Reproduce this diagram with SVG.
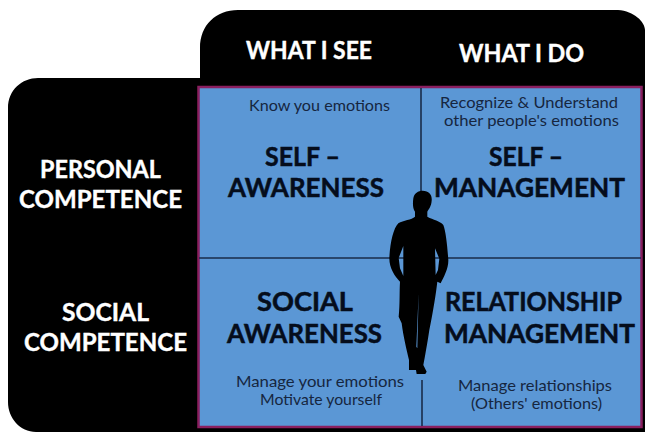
<svg xmlns="http://www.w3.org/2000/svg" width="645" height="432" viewBox="0 0 645 432">
<style>
text{font-family:"Lato","Liberation Sans",Arial,sans-serif;text-anchor:start}
.h{fill:#fff;font-weight:700;font-size:24px;stroke:#fff;stroke-width:.4px}
.t{fill:#050d1c;font-weight:700;font-size:26px;stroke:#050d1c;stroke-width:.5px}
.s{fill:#16263f;font-size:15px}
.l{stroke:#1a2c4a;stroke-width:1.6;fill:none}
</style>
<rect width="645" height="432" fill="#fff"/>
<g id="frame">
<path d="M200 78V48C200 25 216 10 238 10H618C634 11 645 22 645 30V432H36C20 432 8 418 8 402V108C8 90 22 78 38 78Z" fill="#000"/>
<rect x="198.500" y="87" width="443" height="340" fill="#5b97d5" stroke="#8a1f5f" stroke-width="2.500"/>
</g>
<g id="connectors">
<path class="l" d="M421 88V194M422 380V426M199 258H641"/>
</g>
<g id="header-see"><text class="h" x="246" y="59" textLength="126" lengthAdjust="spacingAndGlyphs">WHAT I SEE</text></g>
<g id="header-do"><text class="h" x="459" y="62" textLength="125" lengthAdjust="spacingAndGlyphs">WHAT I DO</text></g>
<g id="row-personal">
<text class="h" x="40" y="178" textLength="121" lengthAdjust="spacingAndGlyphs">PERSONAL</text>
<text class="h" x="19" y="208" textLength="163" lengthAdjust="spacingAndGlyphs">COMPETENCE</text>
</g>
<g id="row-social">
<text class="h" x="62" y="321" textLength="87" lengthAdjust="spacingAndGlyphs">SOCIAL</text>
<text class="h" x="24" y="351" textLength="163" lengthAdjust="spacingAndGlyphs">COMPETENCE</text>
</g>
<g id="self-awareness">
<text class="s" x="249" y="111" textLength="141" lengthAdjust="spacingAndGlyphs">Know you emotions</text>
<text class="t" x="265" y="166" textLength="75" lengthAdjust="spacingAndGlyphs">SELF –</text>
<text class="t" x="228" y="197" textLength="156" lengthAdjust="spacingAndGlyphs">AWARENESS</text>
</g>
<g id="self-management">
<text class="s" x="440" y="108" textLength="178" lengthAdjust="spacingAndGlyphs">Recognize &amp; Understand</text>
<text class="s" x="444" y="126" textLength="175" lengthAdjust="spacingAndGlyphs">other people's emotions</text>
<text class="t" x="489" y="166" textLength="74" lengthAdjust="spacingAndGlyphs">SELF –</text>
<text class="t" x="434" y="197" textLength="191" lengthAdjust="spacingAndGlyphs">MANAGEMENT</text>
</g>
<g id="social-awareness">
<text class="t" x="257" y="311" textLength="96" lengthAdjust="spacingAndGlyphs">SOCIAL</text>
<text class="t" x="227" y="343" textLength="155" lengthAdjust="spacingAndGlyphs">AWARENESS</text>
<text class="s" x="236" y="387" textLength="168" lengthAdjust="spacingAndGlyphs">Manage your emotions</text>
<text class="s" x="260" y="405" textLength="122" lengthAdjust="spacingAndGlyphs">Motivate yourself</text>
</g>
<g id="relationship-management">
<text class="t" x="445" y="311" textLength="177" lengthAdjust="spacingAndGlyphs">RELATIONSHIP</text>
<text class="t" x="444" y="343" textLength="191" lengthAdjust="spacingAndGlyphs">MANAGEMENT</text>
<text class="s" x="458" y="391" textLength="154" lengthAdjust="spacingAndGlyphs">Manage relationships</text>
<text class="s" x="471" y="409" textLength="131" lengthAdjust="spacingAndGlyphs">(Others' emotions)</text>
</g>
<g id="silhouette" transform="translate(340 170) scale(.3333)">
<path fill="#000" fill-rule="evenodd" d="M248 62C268 62 277 75 275 92C274 108 266 118 262 125L262 140C280 150 300 152 310 165C318 185 322 230 325 270C326 295 312 320 302 340L292 335C288 370 280 420 268 480C262 520 255 560 250 585L260 605L256 612L230 612L228 600L207 600L207 570C200 540 190 500 185 460L176 440C180 400 178 370 180 335C165 320 148 295 148 265C150 220 160 175 175 160C190 150 215 150 225 140L225 125C218 115 218 100 220 85C222 70 235 62 248 62Z M190 228L176 264L180 295L190 318Z M285 235L298 266L294 300L287 315Z M236 370L229 530L232 535Z"/>
</g>
</svg>
